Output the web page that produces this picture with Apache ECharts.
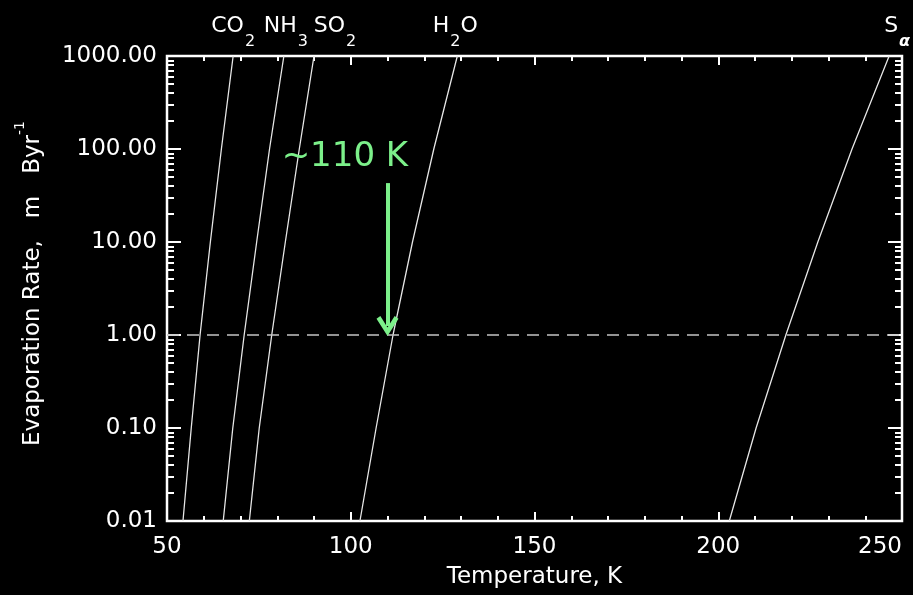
<!DOCTYPE html>
<html>
<head>
<meta charset="utf-8">
<script src="https://cdn.jsdelivr.net/npm/echarts@6/dist/echarts.min.js"></script>
<style>
html,body{margin:0;padding:0;background:#000;}
#chart{width:913px;height:595px;}
</style>
</head>
<body>
<div id="chart"></div>
<script>
// Evaporation rate levels (m/Byr) at which temperatures were read
const rates = [0.01, 0.1, 1, 10, 100, 1000];
// Temperatures (K) for each species at those rates
const T_CO2 = [54.35, 56.6, 59.0, 61.8, 64.8, 68.0];
const T_NH3 = [65.3, 67.9, 71.0, 74.4, 77.9, 81.8];
const T_SO2 = [72.4, 75.1, 78.5, 82.2, 86.0, 90.0];
const T_H2O = [102.5, 106.9, 111.5, 116.8, 122.6, 129.0];
const T_Sa  = [203.0, 210.3, 218.4, 227.1, 236.4, 246.5];

const speciesNames = ['CO2', 'NH3', 'SO2', 'H2O', 'Sa'];
const speciesLabels = ['{a|CO}{s|2}', '{a|NH}{s|3}', '{a|SO}{s|2}', '{a|H}{s|2}{a|O}', '{a|S}{g|α}'];
const speciesT = [T_CO2, T_NH3, T_SO2, T_H2O, T_Sa];

// Axis ticks
const xTicks = [50, 100, 150, 200, 250];
const yMajorTicks = [0.01, 0.1, 1, 10, 100, 1000];
const yMinorTicks = [];
for (let d = 0; d < yMajorTicks.length - 1; d++) {
  for (let m = 2; m <= 9; m++) yMinorTicks.push(+(yMajorTicks[d] * m).toPrecision(3));
}

// Annotation
const threshold = 1;
const annoText = '~110 K';
const annoT = 110;
const annoArrowTop = 43;
const annoArrowEnd = 1.25;
const annoTextPos = [98.4, 82];

const FONT = 'DejaVu Sans';
const WHITE = '#ffffff';
const GREEN = '#7cf08a';

const labelOffsets = [[0, 0], [2, 0], [21, 0], [-2, 0], [8, 0]];

function yAxisDef(position, vals, len, labels) {
  return {
    type: 'log', logBase: 10, min: 0.01, max: 1000, position: position,
    axisLine: { show: false },
    axisTick: { show: true, inside: true, length: len, customValues: vals,
      lineStyle: { color: WHITE, width: 2 } },
    minorTick: { show: false },
    axisLabel: labels ? {
      show: true, customValues: yMajorTicks, color: WHITE, fontFamily: FONT, fontSize: 23, margin: 10,
      formatter: v => Number(v).toFixed(2)
    } : { show: false },
    splitLine: { show: false }
  };
}

const yAxes = [
  Object.assign(yAxisDef('left', yMajorTicks, 14, true), {
    name: '{n|Evaporation Rate,   m   Byr}{p|-1}',
    nameLocation: 'middle', nameGap: 128, nameRotate: 90,
    nameTextStyle: {
      padding: [0, 0, 0, 10],
      rich: {
        n: { color: WHITE, fontFamily: FONT, fontSize: 23, lineHeight: 26, padding: [9, 0, 0, 0], verticalAlign: 'top' },
        p: { color: WHITE, fontFamily: FONT, fontSize: 14, lineHeight: 16, verticalAlign: 'top' }
      }
    }
  }),
  yAxisDef('left', yMinorTicks, 7, false),
  yAxisDef('right', yMajorTicks, 14, false),
  yAxisDef('right', yMinorTicks, 7, false)
];

function xAxisDef(position, labels) {
  return {
    type: 'value', min: 50, max: 250, interval: 50, position: position,
    axisLine: { show: false },
    axisTick: { show: true, inside: true, length: 9, lineStyle: { color: WHITE, width: 2 } },
    minorTick: { show: true, splitNumber: 5, length: 5, lineStyle: { color: WHITE, width: 2 } },
    axisLabel: labels ? {
      show: true, color: WHITE, fontFamily: FONT, fontSize: 23, margin: 15, alignMaxLabel: 'right',
      customValues: xTicks
    } : { show: false },
    splitLine: { show: false }
  };
}

const xAxes = [
  Object.assign(xAxisDef('bottom', true), {
    name: 'Temperature, K', nameLocation: 'middle', nameGap: 45,
    nameTextStyle: { color: WHITE, fontFamily: FONT, fontSize: 23 }
  }),
  xAxisDef('top', false)
];

const series = speciesT.map((arr, i) => ({
  type: 'line', name: speciesNames[i], xAxisIndex: 0, yAxisIndex: 0,
  data: arr.map((t, j) => [t, rates[j]]),
  showSymbol: false, symbol: 'none', smooth: false,
  lineStyle: { color: '#e6e6e6', width: 1.3 },
  silent: true,
  markPoint: {
    symbol: 'circle', symbolSize: 0, silent: true,
    data: [{
      coord: [arr[arr.length - 1], rates[rates.length - 1]],
      label: {
        show: true, position: 'top', distance: 15, offset: labelOffsets[i],
        formatter: speciesLabels[i],
        rich: {
          a: { color: WHITE, fontFamily: FONT, fontSize: 22, lineHeight: 26, verticalAlign: 'top' },
          s: { color: WHITE, fontFamily: FONT, fontSize: 16, lineHeight: 18, padding: [19, 0, 0, 1], verticalAlign: 'top' },
          g: { color: WHITE, fontFamily: FONT, fontSize: 16, fontStyle: 'italic', fontWeight: 'bold', lineHeight: 18, padding: [19, 0, 0, 1], verticalAlign: 'top' }
        }
      }
    }]
  }
}));

// dashed threshold line + annotation
series.push({
  type: 'line', xAxisIndex: 0, yAxisIndex: 0, data: [], silent: true,
  markLine: {
    silent: true, animation: false,
    data: [
      [{ coord: [50, threshold], symbol: 'none', lineStyle: { color: '#c4c4c4', width: 1.6, type: [12, 8] } },
       { coord: [250, threshold], symbol: 'none' }],
      [{ coord: [annoT, annoArrowTop], symbol: 'none', lineStyle: { color: GREEN, width: 4, type: 'solid' } },
       { coord: [annoT, annoArrowEnd], symbol: 'path://M10,0 L20,15 L16.5,17.5 L10,7.5 L3.5,17.5 L0,15 Z', symbolSize: [22, 20] }]
    ],
    label: { show: false }
  },
  markPoint: {
    symbol: 'circle', symbolSize: 0, silent: true,
    data: [{ coord: annoTextPos,
      label: { show: true, position: 'inside', formatter: annoText, color: GREEN, fontFamily: FONT, fontSize: 34 } }]
  }
});

const chart = echarts.init(document.getElementById('chart'), null, { renderer: 'canvas' });
chart.setOption({
  backgroundColor: '#000',
  animation: false,
  grid: { left: 167, right: 11, top: 56, bottom: 74, show: true, borderColor: WHITE, borderWidth: 2.5, backgroundColor: 'transparent' },
  xAxis: xAxes,
  yAxis: yAxes,
  series: series
});
</script>
</body>
</html>
